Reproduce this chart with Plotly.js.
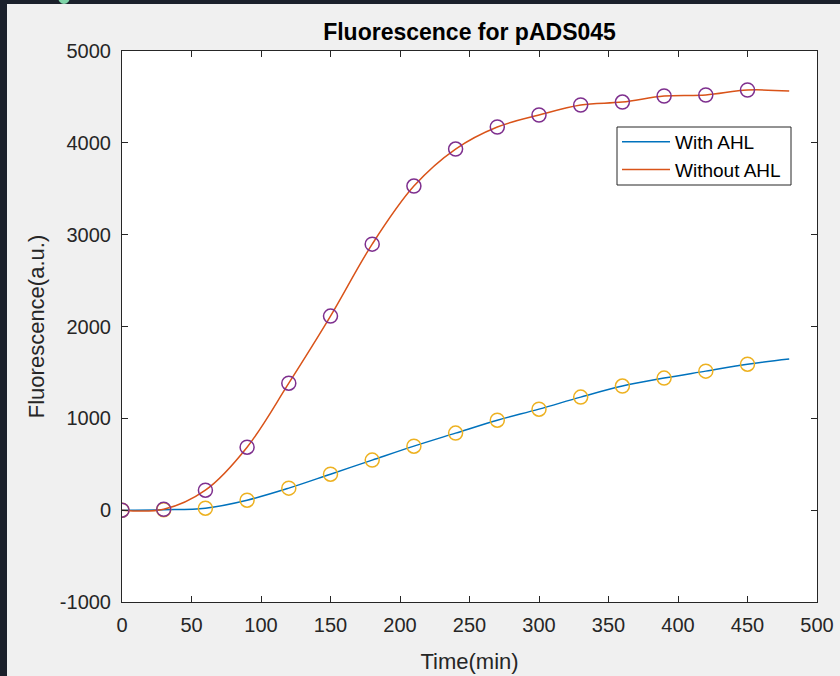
<!DOCTYPE html>
<html>
<head>
<meta charset="utf-8">
<script src="https://cdn.plot.ly/plotly-3.0.1.min.js"></script>
<style>
  html, body { margin: 0; padding: 0; background: #1b202b; width: 840px; height: 676px; overflow: hidden; }
  #chart { position: absolute; left: 7px; top: 4px; width: 833px; height: 672px; }
  #blob { position: absolute; left: 58px; top: -10px; width: 12px; height: 14px; border-radius: 50%; background: #7fd4a8; }
</style>
</head>
<body>
<div id="blob"></div>
<div id="chart"></div>
<script>
// Sample times (min) where markers are drawn
const markerTimes = [0, 30, 60, 90, 120, 150, 180, 210, 240, 270, 300, 330, 360, 390, 420, 450];
// Times for fitted curves (extend to 480)
const lineTimes = [0, 30, 60, 90, 120, 150, 180, 210, 240, 270, 300, 330, 360, 390, 420, 450, 480];

// Fluorescence (a.u.) with AHL
const withAHL = [0, 5, 22, 109, 240, 392, 545, 697, 839, 980, 1100, 1231, 1351, 1438, 1514, 1590];
const withAHLLine = [0, 5, 22, 109, 240, 392, 545, 697, 839, 980, 1100, 1231, 1351, 1438, 1514, 1590, 1645];

// Fluorescence (a.u.) without AHL
const withoutAHL = [0, 10, 218, 686, 1383, 2113, 2897, 3529, 3932, 4172, 4303, 4412, 4444, 4510, 4521, 4575];
const withoutAHLLine = [0, 10, 218, 686, 1383, 2113, 2897, 3529, 3932, 4172, 4303, 4412, 4444, 4510, 4521, 4575, 4564];

const seriesNames = ["With AHL", "Without AHL"];
const xTicks = [0, 50, 100, 150, 200, 250, 300, 350, 400, 450, 500];
const yTicks = [-1000, 0, 1000, 2000, 3000, 4000, 5000];

const FONT = "Liberation Sans, Arial, Helvetica, sans-serif";
const AX = "#262626";

const traces = [
  { x: lineTimes, y: withAHLLine, mode: "lines", name: seriesNames[0],
    line: { color: "#0072BD", width: 1.5, shape: "spline", smoothing: 1 } },
  { x: lineTimes, y: withoutAHLLine, mode: "lines", name: seriesNames[1],
    line: { color: "#D95319", width: 1.5, shape: "spline", smoothing: 1 } },
  { x: markerTimes, y: withAHL, mode: "markers", showlegend: false, hoverinfo: "skip",
    marker: { symbol: "circle-open", size: 14, color: "#EDB120", line: { width: 1.5, color: "#EDB120" } } },
  { x: markerTimes, y: withoutAHL, mode: "markers", showlegend: false, hoverinfo: "skip",
    marker: { symbol: "circle-open", size: 14, color: "#7E2F8E", line: { width: 1.5, color: "#7E2F8E" } } }
];

const axisCommon = {
  showline: true, linecolor: AX, linewidth: 1, mirror: "ticks",
  ticks: "inside", ticklen: 6, tickwidth: 1, tickcolor: AX,
  showgrid: false, zeroline: false,
  tickfont: { family: FONT, size: 20, color: AX },
  tickmode: "array"
};

// legend box in paper coordinates (pixel -> paper)
const px = v => (v - 122) / 695;
const py = v => (602 - v) / 551;

const layout = {
  width: 833, height: 672,
  margin: { l: 115, r: 23, t: 47, b: 74 },
  paper_bgcolor: "#f0f0f0",
  plot_bgcolor: "#ffffff",
  title: { text: "<b>Fluorescence for pADS045</b>", font: { family: FONT, size: 23, color: "#000000" },
           x: 0.5, xref: "paper", xanchor: "center", y: 1, yref: "paper", yanchor: "bottom", pad: { b: 11 } },
  xaxis: Object.assign({}, axisCommon, {
    range: [0, 500], tickvals: xTicks, ticktext: xTicks.map(String),
    ticklabelstandoff: 5,
    title: { text: "Time(min)", font: { family: FONT, size: 22, color: AX }, standoff: 18 }
  }),
  yaxis: Object.assign({}, axisCommon, {
    range: [-1000, 5000], tickvals: yTicks, ticktext: yTicks.map(String),
    ticklabelstandoff: 6,
    title: { text: "Fluorescence(a.u.)", font: { family: FONT, size: 22, color: AX }, standoff: 9 }
  }),
  shapes: [
    { type: "rect", xref: "paper", yref: "paper", layer: "above",
      x0: px(617), x1: px(791), y0: py(185), y1: py(127),
      fillcolor: "#ffffff", line: { color: AX, width: 1 } }
  ],
  legend: {
    x: px(617), y: py(123), xanchor: "left", yanchor: "top",
    bgcolor: "rgba(0,0,0,0)", borderwidth: 0,
    font: { family: FONT, size: 19, color: "#000000" },
    itemwidth: 48,
    tracegroupgap: 0
  },
  showlegend: true
};

Plotly.newPlot("chart", traces, layout, { displayModeBar: false, staticPlot: true });
</script>
</body>
</html>
